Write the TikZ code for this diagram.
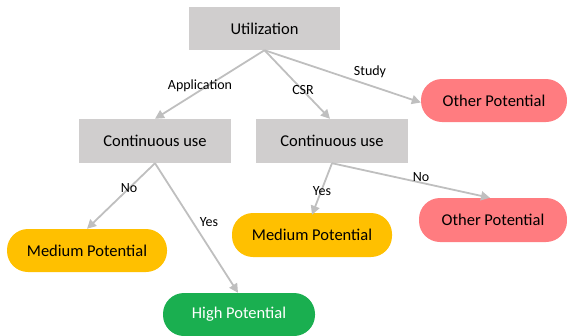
\documentclass[tikz,border=0pt]{standalone}
\usepackage{fontspec}
\setmainfont{Carlito}
\usetikzlibrary{arrows.meta}
\definecolor{boxgray}{HTML}{D0CECE}
\definecolor{arrgray}{HTML}{BFBFBF}
\definecolor{medyellow}{HTML}{FFC000}
\definecolor{othred}{HTML}{FF7C80}
\definecolor{highgreen}{HTML}{1AAF50}
\tikzset{
  graybox/.style={fill=boxgray, draw=none, minimum width=151pt, minimum height=43pt, inner sep=0pt, font=\fontsize{16.5}{18}\selectfont},
  pill/.style={draw=none, rounded corners=21pt, minimum height=43pt, inner sep=0pt, font=\fontsize{16.5}{18}\selectfont},
  conn/.style={draw=arrgray, line width=1.8pt, -{Triangle[length=9pt,width=9pt]}},
  elabel/.style={inner sep=1pt, font=\fontsize{14}{16}\selectfont}
}
\begin{document}
\begin{tikzpicture}[x=1pt,y=-1pt]
\useasboundingbox (0,0) rectangle (567,335);
\node[graybox] (util) at (264.5,28.5) {Utilization};
\node[graybox, minimum width=152pt, minimum height=44pt] (cul) at (155,141) {Continuous use};
\node[graybox, minimum width=152pt, minimum height=44pt] (cur) at (332,141) {Continuous use};
\node[pill, fill=othred, minimum width=146pt] (otop) at (494,100.5) {Other Potential};
\node[pill, fill=medyellow, minimum width=160pt] (medl) at (87,250.5) {Medium Potential};
\node[pill, fill=medyellow, minimum width=160pt, minimum height=44pt] (medr) at (312,235) {Medium Potential};
\node[pill, fill=othred, minimum width=148pt, minimum height=44pt] (oright) at (493,220) {Other Potential};
\node[pill, fill=highgreen, text=white, minimum width=152pt] (high) at (239,314.5) {High Potential};

\draw[conn] (util.south) -- (cul.north);
\draw[conn] (util.south) -- ([xshift=-2pt]cur.north);
\draw[conn] (util.south) -- ([yshift=-2pt]otop.west);
\draw[conn] (cul.south) -- (medl.north);
\draw[conn] (cul.south) -- ([xshift=-1pt]high.north);
\draw[conn] (cur.south) -- ([yshift=-2pt]medr.north);
\draw[conn] (cur.south) -- ([xshift=-3pt]oright.north);

\node[elabel] (lapp) at (200,86) {Application};
\node[elabel] (lcsr) at (303,90) {CSR};
\node[elabel] (lstudy) at (370,72) {Study};
\node[elabel] (lno1) at (129,188) {No};
\node[elabel] (lyes1) at (209,222) {Yes};
\node[elabel] (lyes2) at (322,191) {Yes};
\node[elabel] (lno2) at (421,177) {No};
\end{tikzpicture}
\end{document}
